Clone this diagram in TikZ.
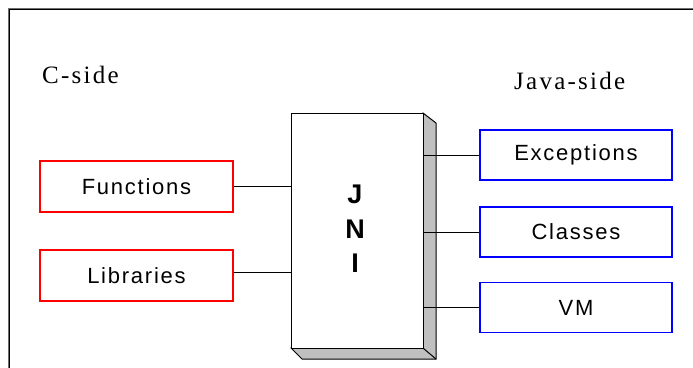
\documentclass[tikz,border=0pt]{standalone}
\usepackage{fontspec}
\setmainfont{Liberation Serif}
\setsansfont{Liberation Sans}
\newfontfamily\boxfont[LetterSpace=8]{Liberation Sans}
\newfontfamily\sidefont[LetterSpace=9]{Liberation Serif}
\usetikzlibrary{positioning}
\definecolor{shadowgray}{RGB}{192,192,192}
\definecolor{framegray}{RGB}{110,110,110}
\tikzset{
  cbox/.style={draw=red, line width=1.2pt, minimum width=193pt, minimum height=51pt,
    font=\boxfont\fontsize{22}{25}\selectfont},
  jbox/.style={draw=blue, line width=1.2pt, minimum width=192pt, minimum height=50pt,
    font=\boxfont\fontsize{22}{25}\selectfont},
  side/.style={font=\sidefont\fontsize{25}{29}\selectfont, anchor=base west, inner sep=0pt},
  letter/.style={font=\sffamily\bfseries\fontsize{27}{30}\selectfont, anchor=base, inner sep=0pt}
}
\begin{document}
\begin{tikzpicture}[x=1pt,y=-1pt]
      \useasboundingbox (0,0) rectangle (693,367);
      \fill[white] (0,0) rectangle (693,367);
      % outer frame
      \draw[framegray, line width=2.6pt] (9,380) -- (9,9) -- (710,9);
      \draw[black, line width=0.8pt] (9,380) -- (9,9) -- (710,9);
      \draw
        (42,83) node[side] (cside){C-side}
        (514,89) node[side] (jside){Java-side};
      % shadow of the JNI block
      \draw[fill=shadowgray, line width=1pt]
        (423,113) -- (436,123) -- (436,359) -- (302,359) -- (291,348) -- cycle;
      \node[draw, fill=white, line width=1pt, minimum width=132pt, minimum height=235pt,
        inner sep=0pt] (jni) at (357,230.5) {};
      \draw[line width=1pt] (jni.south east) -- (436,359);
      \draw
        (355,203) node[letter] (j){J}
        (355,238) node[letter] (n){N}
        (355,272) node[letter] (i){I};
      \draw
        (136.5,186.5) node[cbox] (fun){Functions}
        (136.5,275.5) node[cbox] (lib){Libraries}
        (576,155) node[jbox] (exc){Exceptions}
        (576,232) node[jbox] (cls){Classes}
        (576,307.5) node[jbox] (vm){VM};
      \begin{scope}[-, line width=1pt]
        \draw (fun.east) to (fun.east -| jni.west);
        \draw (lib.east |- 0,272) to (jni.west |- 0,272);
        \draw (jni.east |- exc.west) to (exc.west);
        \draw (jni.east |- cls.west) to (cls.west);
        \draw (jni.east |- vm.west) to (vm.west);
      \end{scope}
    \end{tikzpicture}
\end{document}
